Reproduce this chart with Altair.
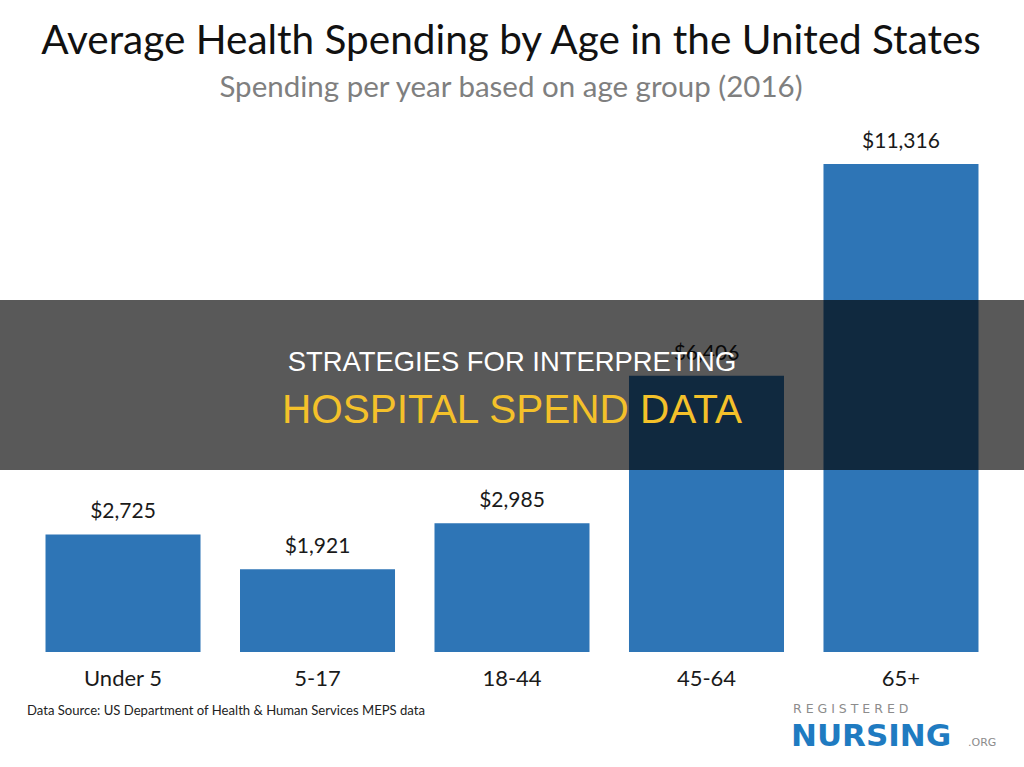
import altair as alt
import pandas as pd

# ---- data ----
AGE_GROUPS = ["Under 5", "5-17", "18-44", "45-64", "65+"]
SPENDING = [2725, 1921, 2985, 6406, 11316]

TITLE = "Average Health Spending by Age in the United States"
SUBTITLE = "Spending per year based on age group (2016)"
SOURCE = "Data Source: US Department of Health & Human Services MEPS data"
BANNER_1 = "STRATEGIES FOR INTERPRETING"
BANNER_2 = "HOSPITAL SPEND DATA"
LOGO_TOP = "R E G I S T E R E D"
LOGO_MAIN = "NURSING"
LOGO_ORG = ".ORG"

df = pd.DataFrame({"age": AGE_GROUPS, "spend": SPENDING})
df["label"] = ["$" + f"{v:,}" for v in SPENDING]

W, H = 1024, 767

x_enc = alt.X("age:N", sort=AGE_GROUPS, axis=None,
              scale=alt.Scale(paddingInner=0.203, paddingOuter=0.234))
y_scale = alt.Scale(domain=[0, 11316], range=[652, 164], nice=False, zero=True)

bars = alt.Chart(df).mark_bar(color="#2E75B6").encode(
    x=x_enc,
    y=alt.Y("spend:Q", scale=y_scale, axis=None),
)

value_labels = alt.Chart(df).mark_text(
    font="Lato", fontSize=21, color="#1a1a1a", baseline="alphabetic", dy=-16
).encode(
    x=x_enc,
    y=alt.Y("spend:Q", scale=y_scale, axis=None),
    text="label:N",
)

cat_labels = alt.Chart(df).mark_text(
    font="Lato", fontSize=22, color="#1a1a1a", baseline="alphabetic"
).encode(
    x=x_enc,
    y=alt.value(686),
    text="age:N",
)


def text_layer(txt, x, y, **kw):
    return alt.Chart(pd.DataFrame({"t": [txt]})).mark_text(
        baseline="alphabetic", **kw
    ).encode(x=alt.value(x), y=alt.value(y), text="t:N")


title = text_layer(TITLE, 511, 54, font="Lato", fontSize=40.5, color="#111111", align="center")
subtitle = text_layer(SUBTITLE, 511, 97, font="Lato", fontSize=29.5, color="#7f7f7f", align="center")
source = text_layer(SOURCE, 27, 715, font="Lato", fontSize=13.1, color="#222222", align="left")

band = alt.Chart(pd.DataFrame({"t": ["band"]})).mark_rect(
    color="#000000", opacity=0.65
).encode(
    x=alt.value(0), x2=alt.value(W), y=alt.value(300), y2=alt.value(470)
)

banner1 = text_layer(BANNER_1, 512, 371, font="Liberation Sans", fontSize=27.4,
                     color="#ffffff", align="center")
banner2 = text_layer(BANNER_2, 512, 423, font="Liberation Sans", fontSize=40.5,
                     color="#F4C12A", align="center")

logo_top = text_layer(LOGO_TOP, 793, 713, font="DejaVu Sans", fontSize=12.5,
                      color="#8c8c8c", align="left")
logo_main = text_layer(LOGO_MAIN, 791, 746, font="DejaVu Sans", fontSize=31,
                       fontWeight="bold", color="#1F7BC1", align="left")
logo_org = text_layer(LOGO_ORG, 968, 746, font="DejaVu Sans", fontSize=11,
                      color="#8c8c8c", align="left")

chart = alt.layer(
    bars, value_labels, cat_labels, title, subtitle, source,
    band, banner1, banner2, logo_top, logo_main, logo_org
).properties(
    width=W, height=H, padding=0, autosize=alt.AutoSizeParams(type="none"),
    background="#ffffff"
).configure_view(stroke=None)

chart.save("out.html", embed_options={"renderer": "svg", "actions": False})
